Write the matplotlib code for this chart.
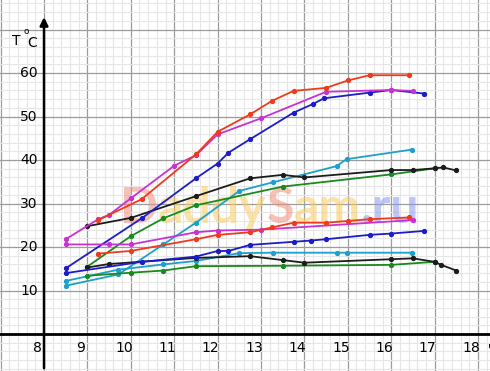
import matplotlib
matplotlib.use("Agg")
import matplotlib.pyplot as plt
from matplotlib.ticker import MultipleLocator

# heating curves (upper) and cooling curves (lower), hours vs temperature
red_up_x = [9.25, 10.25, 11.5, 12, 12.75, 13.25, 13.75, 14.5, 15, 15.5, 16.4]
red_up_y = [26.2, 31.0, 41.3, 46.5, 50.5, 53.6, 55.9, 56.6, 58.3, 59.5, 59.5]
red_lo_x = [9.25, 10, 11.5, 12, 12.75, 13.25, 13.75, 14.5, 15, 15.5, 16.4]
red_lo_y = [18.5, 19.1, 21.8, 22.8, 23.4, 24.5, 25.6, 25.6, 26.0, 26.4, 26.8]

mag_up_x = [8.5, 9.25, 9.5, 10, 11, 11.5, 12, 13, 14.5, 16, 16.5]
mag_up_y = [21.8, 26.4, 27.4, 31.2, 38.7, 41.1, 45.9, 49.6, 55.7, 56.1, 55.9]
mag_lo_x = [8.5, 9.5, 10, 11.5, 12, 13, 16.5]
mag_lo_y = [20.6, 20.6, 20.6, 23.4, 23.8, 24.0, 26.2]

blue_up_x = [8.5, 10.25, 11.5, 12, 12.25, 12.75, 13.75, 14.2, 14.45, 15.5, 16, 16.75]
blue_up_y = [15.1, 26.6, 35.8, 39.2, 41.7, 44.8, 50.9, 52.9, 54.2, 55.5, 56.1, 55.3]
blue_lo_x = [8.5, 10.25, 11.5, 12, 12.25, 12.75, 13.75, 14.15, 14.5, 15.5, 16, 16.75]
blue_lo_y = [14.0, 16.6, 17.8, 19.1, 19.1, 20.5, 21.2, 21.5, 21.8, 22.8, 23.1, 23.7]

cyan_up_x = [8.5, 9.71, 10.75, 11.5, 12.5, 13.28, 14.74, 14.97, 16.47]
cyan_up_y = [11.1, 13.7, 20.6, 25.6, 32.9, 34.9, 38.6, 40.2, 42.4]
cyan_lo_x = [8.5, 9.71, 10.75, 11.5, 12.5, 13.28, 14.74, 14.97, 16.47]
cyan_lo_y = [12.2, 14.8, 16.0, 16.8, 18.6, 18.7, 18.7, 18.7, 18.7]

black_up_x = [9, 10, 11.5, 12.75, 13.5, 14, 16, 16.5, 17, 17.2, 17.5]
black_up_y = [24.8, 26.7, 31.7, 35.8, 36.6, 36.0, 37.7, 37.7, 38.1, 38.3, 37.6]
black_lo_x = [9, 9.5, 11.5, 12.75, 13.5, 14, 16, 16.5, 17, 17.15, 17.5]
black_lo_y = [15.3, 16.1, 17.5, 17.9, 17.0, 16.4, 17.2, 17.4, 16.6, 15.9, 14.6]

green_up_x = [9, 10, 10.75, 11.5, 13.5, 16, 17]
green_up_y = [15.5, 22.5, 26.6, 29.6, 33.9, 36.7, 38.1]
green_lo_x = [9, 10, 10.75, 11.5, 13.5, 16, 17]
green_lo_y = [13.4, 14.1, 14.6, 15.6, 15.7, 15.9, 16.6]

x_ticks = [8, 9, 10, 11, 12, 13, 14, 15, 16, 17, 18]
y_ticks = [10, 20, 30, 40, 50, 60]

series = [
    (cyan_up_x, cyan_up_y, '#1f9fcc'), (cyan_lo_x, cyan_lo_y, '#1f9fcc'),
    (green_up_x, green_up_y, '#198a1c'), (green_lo_x, green_lo_y, '#198a1c'),
    (black_up_x, black_up_y, '#1c1c1c'), (black_lo_x, black_lo_y, '#1c1c1c'),
    (blue_up_x, blue_up_y, '#1c1cc8'), (blue_lo_x, blue_lo_y, '#1c1cc8'),
    (mag_up_x, mag_up_y, '#c832d2'), (mag_lo_x, mag_lo_y, '#c832d2'),
    (red_up_x, red_up_y, '#f03a1e'), (red_lo_x, red_lo_y, '#f03a1e'),
]

fig = plt.figure(figsize=(4.9, 3.71), dpi=100)
ax = fig.add_axes([0, 0, 1, 1])
ax.set_xlim(6.986, 18.276)
ax.set_ylim(-8.5, 76.8)
for s in ax.spines.values():
    s.set_visible(False)

# graph paper
ax.xaxis.set_major_locator(MultipleLocator(1))
ax.xaxis.set_minor_locator(MultipleLocator(0.2))
ax.yaxis.set_major_locator(MultipleLocator(10))
ax.yaxis.set_minor_locator(MultipleLocator(2))
ax.grid(which='major', color='#9c9c9c', lw=0.9, zorder=0)
ax.grid(which='minor', color='#e6e6e6', lw=0.8, zorder=0)
ax.tick_params(which='both', length=0, labelbottom=False, labelleft=False)
ax.set_axisbelow(True)

# axes with arrow
ax.plot([6.986, 18.276], [0, 0], color='black', lw=2, zorder=4)
ax.annotate('', xy=(8, 73.5), xytext=(8, -8.5),
            arrowprops=dict(arrowstyle='-|>', color='black', lw=1.8,
                            mutation_scale=12), zorder=4)

for t in x_ticks:
    ax.text(t - 0.16, -3.2, str(t), ha='center', va='center', fontsize=10)
for t in y_ticks:
    ax.text(7.86, t, str(t), ha='right', va='center', fontsize=10)
ax.text(7.36, 67.4, 'T', ha='center', va='center', fontsize=10)
ax.text(7.58, 69.6, 'o', ha='center', va='center', fontsize=6.5)
ax.text(7.73, 67.0, 'C', ha='center', va='center', fontsize=10)
ax.text(18.22, -3.2, 'ч', ha='left', va='center', fontsize=10)

# watermark
fig.canvas.draw()
renderer = fig.canvas.get_renderer()
pieces = [('D', '#f0907e'), ('addy', '#f9cd62'), ('S', '#f0907e'),
          ('am', '#f9cd62'), ('.ru', '#8797ee')]
xpos = 9.75
for txt, col in pieces:
    t = ax.text(xpos, 25.5, txt, fontsize=36, fontweight='bold', color=col,
                family='Lato', alpha=0.55, ha='left', va='baseline', zorder=2)
    bb = t.get_window_extent(renderer)
    xpos = ax.transData.inverted().transform((bb.x1, bb.y0))[0]

for xs, ys, c in series:
    ax.plot(xs, ys, color=c, lw=1.3, marker='o', ms=2.8, zorder=3)

fig.savefig('out.png', dpi=100)
